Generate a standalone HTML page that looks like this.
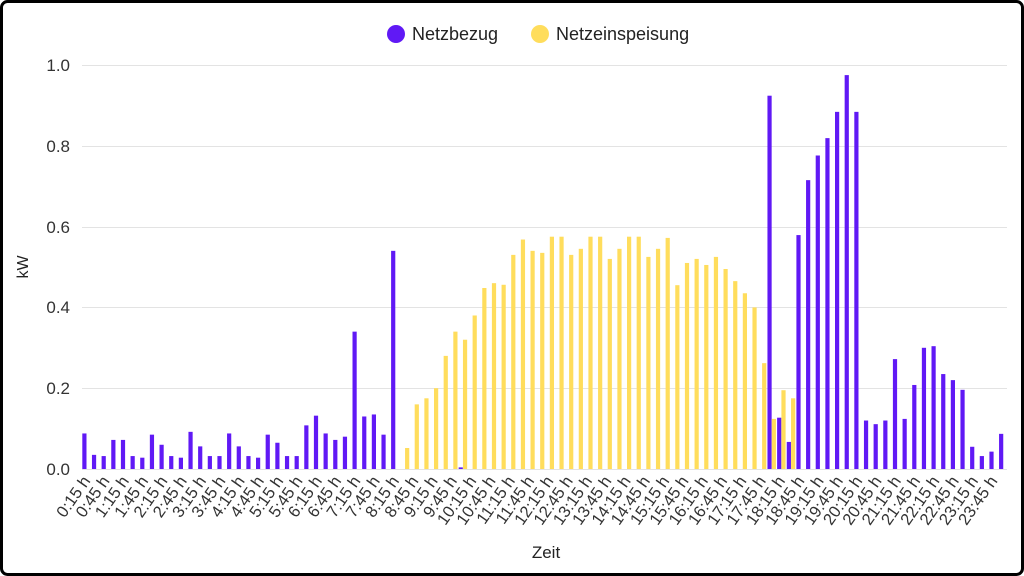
<!DOCTYPE html>
<html><head><meta charset="utf-8"><style>
html,body{margin:0;padding:0;background:#fff}
svg{display:block;font-family:"Liberation Sans",sans-serif}
</style></head><body>
<svg id="s" width="1024" height="576" viewBox="0 0 1024 576" xmlns="http://www.w3.org/2000/svg">
<rect x="1.5" y="1.5" width="1021" height="573" rx="6" fill="#fff" stroke="#000" stroke-width="3"/>
<g stroke="#e3e3e3" stroke-width="1">
<line x1="82" x2="1007" y1="65.5" y2="65.5"/><line x1="82" x2="1007" y1="146.5" y2="146.5"/>
<line x1="82" x2="1007" y1="227.5" y2="227.5"/><line x1="82" x2="1007" y1="307.5" y2="307.5"/>
<line x1="82" x2="1007" y1="388.5" y2="388.5"/><line x1="82" x2="1007" y1="469.5" y2="469.5"/>
</g>
<g font-size="17" fill="#333" text-anchor="end">
<text x="70" y="71">1.0</text><text x="70" y="152">0.8</text><text x="70" y="233">0.6</text>
<text x="70" y="313">0.4</text><text x="70" y="394">0.2</text><text x="70" y="475">0.0</text>
</g>
<text transform="translate(28,267) rotate(-90)" font-size="16" fill="#222" text-anchor="middle">kW</text>
<text x="546" y="558" font-size="17" fill="#222" text-anchor="middle">Zeit</text>
<circle cx="396" cy="34" r="9" fill="#6019f5"/>
<text x="412" y="40" font-size="18" fill="#222">Netzbezug</text>
<circle cx="540" cy="34" r="9" fill="#ffdd5c"/>
<text x="556" y="40" font-size="18" fill="#222">Netzeinspeisung</text>
<g id="bars"></g>
<g font-size="16.5" fill="#333" text-anchor="end" id="lbl">
<text transform="translate(91,481) rotate(-55)">0:15 h</text>
<text transform="translate(110.3,481) rotate(-55)">0:45 h</text>
<text transform="translate(129.6,481) rotate(-55)">1:15 h</text>
<text transform="translate(148.9,481) rotate(-55)">1:45 h</text>
<text transform="translate(168.2,481) rotate(-55)">2:15 h</text>
<text transform="translate(187.5,481) rotate(-55)">2:45 h</text>
<text transform="translate(206.8,481) rotate(-55)">3:15 h</text>
<text transform="translate(226.1,481) rotate(-55)">3:45 h</text>
<text transform="translate(245.4,481) rotate(-55)">4:15 h</text>
<text transform="translate(264.7,481) rotate(-55)">4:45 h</text>
<text transform="translate(284,481) rotate(-55)">5:15 h</text>
<text transform="translate(303.3,481) rotate(-55)">5:45 h</text>
<text transform="translate(322.6,481) rotate(-55)">6:15 h</text>
<text transform="translate(341.9,481) rotate(-55)">6:45 h</text>
<text transform="translate(361.2,481) rotate(-55)">7:15 h</text>
<text transform="translate(380.5,481) rotate(-55)">7:45 h</text>
<text transform="translate(399.8,481) rotate(-55)">8:15 h</text>
<text transform="translate(419.1,481) rotate(-55)">8:45 h</text>
<text transform="translate(438.4,481) rotate(-55)">9:15 h</text>
<text transform="translate(457.7,481) rotate(-55)">9:45 h</text>
<text transform="translate(477,481) rotate(-55)">10:15 h</text>
<text transform="translate(496.3,481) rotate(-55)">10:45 h</text>
<text transform="translate(515.6,481) rotate(-55)">11:15 h</text>
<text transform="translate(534.9,481) rotate(-55)">11:45 h</text>
<text transform="translate(554.2,481) rotate(-55)">12:15 h</text>
<text transform="translate(573.5,481) rotate(-55)">12:45 h</text>
<text transform="translate(592.8,481) rotate(-55)">13:15 h</text>
<text transform="translate(612.1,481) rotate(-55)">13:45 h</text>
<text transform="translate(631.4,481) rotate(-55)">14:15 h</text>
<text transform="translate(650.7,481) rotate(-55)">14:45 h</text>
<text transform="translate(670,481) rotate(-55)">15:15 h</text>
<text transform="translate(689.3,481) rotate(-55)">15:45 h</text>
<text transform="translate(708.6,481) rotate(-55)">16:15 h</text>
<text transform="translate(727.9,481) rotate(-55)">16:45 h</text>
<text transform="translate(747.2,481) rotate(-55)">17:15 h</text>
<text transform="translate(766.5,481) rotate(-55)">17:45 h</text>
<text transform="translate(785.8,481) rotate(-55)">18:15 h</text>
<text transform="translate(805.1,481) rotate(-55)">18:45 h</text>
<text transform="translate(824.4,481) rotate(-55)">19:15 h</text>
<text transform="translate(843.7,481) rotate(-55)">19:45 h</text>
<text transform="translate(863,481) rotate(-55)">20:15 h</text>
<text transform="translate(882.3,481) rotate(-55)">20:45 h</text>
<text transform="translate(901.6,481) rotate(-55)">21:15 h</text>
<text transform="translate(920.9,481) rotate(-55)">21:45 h</text>
<text transform="translate(940.2,481) rotate(-55)">22:15 h</text>
<text transform="translate(959.5,481) rotate(-55)">22:45 h</text>
<text transform="translate(978.8,481) rotate(-55)">23:15 h</text>
<text transform="translate(998.1,481) rotate(-55)">23:45 h</text>
</g>
</svg>
<script>
var P=[0.088,0.035,0.032,0.072,0.072,0.032,0.028,0.085,0.06,0.032,0.028,0.092,0.056,0.032,0.032,0.088,0.056,0.032,0.028,0.085,0.065,0.032,0.032,0.108,0.132,0.088,0.072,0.08,0.34,0.13,0.135,0.085,0.54];
while(P.length<96)P.push(0);
P[39]=0.004;
var tail=[0.924,0.127,0.067,0.579,0.715,0.776,0.819,0.884,0.975,0.884,0.12,0.111,0.12,0.272,0.124,0.208,0.3,0.304,0.235,0.22,0.196,0.055,0.032,0.043,0.087];
for(var i=0;i<tail.length;i++)P[71+i]=tail[i];
var Y=[0.052,0.16,0.175,0.2,0.28,0.34,0.32,0.38,0.448,0.46,0.456,0.53,0.568,0.54,0.535,0.575,0.575,0.53,0.545,0.575,0.575,0.52,0.545,0.575,0.575,0.525,0.545,0.572,0.455,0.51,0.52,0.505,0.525,0.495,0.465,0.435,0.40,0.262,0.124,0.195,0.175];
var g=document.getElementById('bars'),h='';
for(var i=0;i<96;i++){var x=82.3+9.65*i;
if(P[i]>0){var hh=P[i]*404;h+='<rect x="'+x.toFixed(2)+'" y="'+(469-hh).toFixed(2)+'" width="4.2" height="'+hh.toFixed(2)+'" fill="#6019f5"/>';}
var yi=i-33;if(yi>=0&&yi<Y.length){var hy=Y[yi]*404;h+='<rect x="'+(x+4.3).toFixed(2)+'" y="'+(469-hy).toFixed(2)+'" width="4.2" height="'+hy.toFixed(2)+'" fill="#ffdd5c"/>';}
}
g.innerHTML=h;
</script>
</body></html>
